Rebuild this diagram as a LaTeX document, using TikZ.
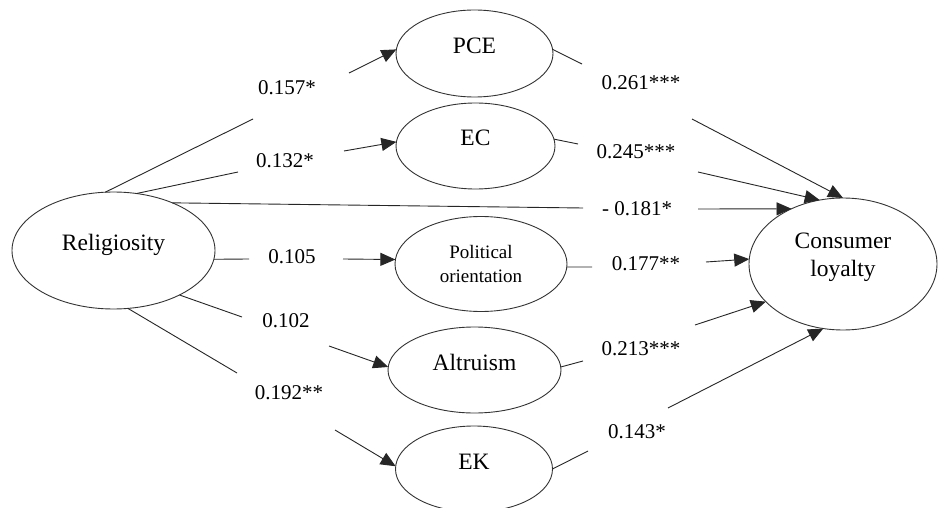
\documentclass[tikz,border=0pt]{standalone}
\usepackage{fontspec}
\setmainfont{Liberation Serif}
\usetikzlibrary{arrows.meta,shapes.geometric}
\begin{document}
\begin{tikzpicture}[x=1pt,y=-1pt,
  ellbase/.style={draw=black!80, line width=0.9pt, ellipse, inner sep=0pt, outer sep=0pt},
  ell/.style={ellbase, font=\fontsize{23.5}{28}\selectfont, text height=16.5pt, text depth=16.5pt},
  lbl/.style={inner sep=0pt, font=\fontsize{21}{25}\selectfont, text height=14.3pt, text depth=0pt},
  conn/.style={line width=0.9pt, draw=black!85},
  arr/.style={conn, -{Triangle[length=15pt,width=13pt]}}
]
\fill[white] (0,0) rectangle (938,508);
\useasboundingbox (0,0) rectangle (938,508);

% nodes
\node[ell, minimum width=203pt, minimum height=117pt] (rel) at (113.5,250.5) {Religiosity};
\node[ell, minimum width=157pt, minimum height=87pt] (pce) at (474.5,53.5) {PCE};
\node[ell, minimum width=159pt, minimum height=86pt] (ec) at (475.5,146) {EC};
\node[ellbase, align=center, font=\fontsize{19}{23.5}\selectfont, minimum width=172pt, minimum height=95pt] (po) at (481,264) {Political\\orientation};
\node[ell, minimum width=173pt, minimum height=86pt] (alt) at (474.5,370) {Altruism};
\node[ell, minimum width=157pt, minimum height=86pt] (ek) at (474,469) {EK};
\node[ellbase, align=center, font=\fontsize{23.5}{28}\selectfont, minimum width=188pt, minimum height=132pt] (cl) at (843,264) {Consumer\\loyalty\rule[-19pt]{0pt}{0pt}};

% labels
\node[lbl] (l1) at (287,87) {0.157*};
\node[lbl] (l2) at (285,160) {0.132*};
\node[lbl] (l3) at (637,208) {- 0.181*};
\node[lbl] (l4) at (292,256) {0.105};
\node[lbl] (l5) at (286,320) {0.102};
\node[lbl] (l6) at (289,392) {0.192**};
\node[lbl] (l7) at (641,82) {0.261***};
\node[lbl] (l8) at (636,151) {0.245***};
\node[lbl] (l9) at (646,263) {0.177**};
\node[lbl] (l10) at (641,348) {0.213***};
\node[lbl] (l11) at (637,431) {0.143*};

% gap coordinates
\coordinate (a1) at (253,119); \coordinate (a2) at (349,73);
\coordinate (b1) at (238,172); \coordinate (b2) at (344,151);
\coordinate (c1) at (583,208); \coordinate (c2) at (698,209);
\coordinate (d1) at (249,259); \coordinate (d2) at (343,259);
\coordinate (e1) at (242,317); \coordinate (e2) at (329,346);
\coordinate (f1) at (237,373); \coordinate (f2) at (335,430);
\coordinate (g1) at (582,64);  \coordinate (g2) at (692,119);
\coordinate (h1) at (578,144); \coordinate (h2) at (698,172);
\coordinate (i1) at (592,267); \coordinate (i2) at (706,262);
\coordinate (j1) at (583,361); \coordinate (j2) at (695,325);
\coordinate (k1) at (588,451); \coordinate (k2) at (668,408);

% Religiosity -> mediators
\draw[conn] (rel.98) -- (a1);  \draw[arr] (a2) -- (pce.177);
\draw[conn] (rel.68) -- (b1);  \draw[arr] (b2) -- (ec.177);
\draw[conn] (rel.39) -- (c1);  \draw[arr] (c2) -- (cl.133);
\draw[conn] (rel.-5) -- (d1);  \draw[arr] (d2) -- (po.177);
\draw[conn] (rel.-34) -- (e1); \draw[arr] (e2) -- (alt.178);
\draw[conn] (rel.-76) -- (f1); \draw[arr] (f2) -- (ek.178);

% mediators -> Consumer loyalty
\draw[conn] (pce.3) -- (g1);  \draw[arr] (g2) -- (cl.90);
\draw[conn] (ec.5) -- (h1);   \draw[arr] (h2) -- (cl.110);
\draw[conn] (po.-2) -- (i1);  \draw[arr] (i2) -- (cl.177);
\draw[conn] (alt.2) -- (j1);  \draw[arr] (j2) -- (cl.206);
\draw[conn] (ek.0) -- (k1);   \draw[arr] (k2) -- (cl.253);
\end{tikzpicture}
\end{document}
